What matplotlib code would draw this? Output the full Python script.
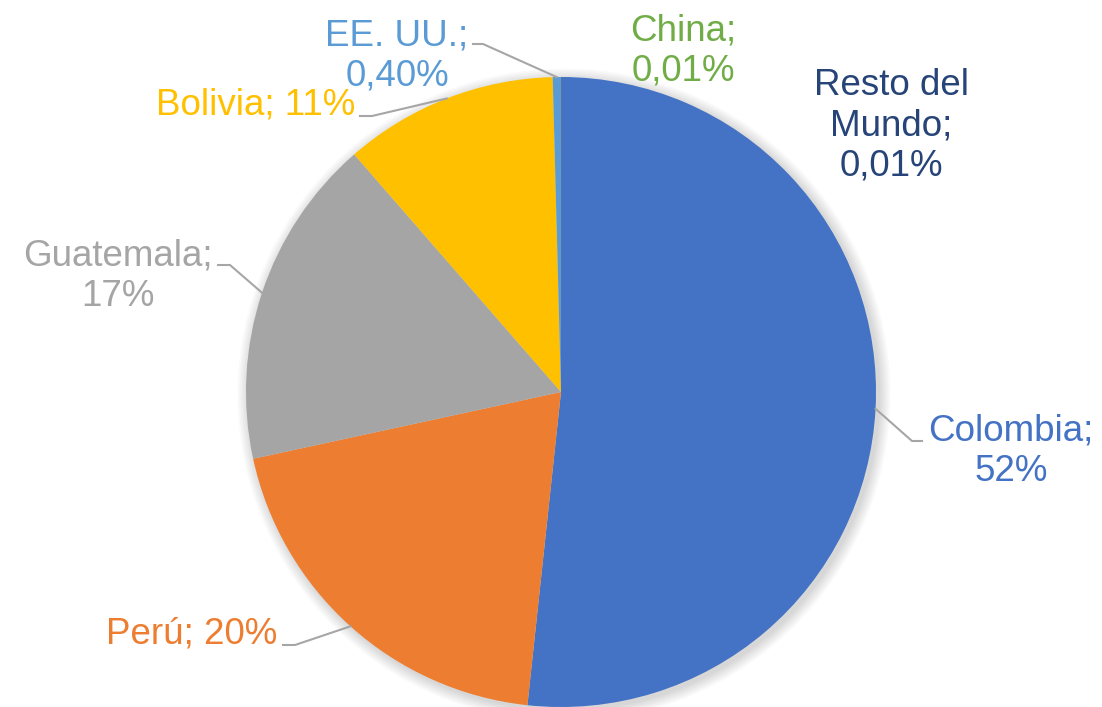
import numpy as np
import matplotlib
matplotlib.use("Agg")
import matplotlib.pyplot as plt

# Datos: participación por país (%)
paises = ["Colombia", "Perú", "Guatemala", "Bolivia", "EE. UU.", "China", "Resto del Mundo"]
valores = [51.7, 19.9, 17.0, 10.98, 0.40, 0.01, 0.01]
etiquetas = ["Colombia;\n52%", "Perú; 20%", "Guatemala;\n17%", "Bolivia; 11%",
             "EE. UU.;\n0,40%", "China;\n0,01%", "Resto del\nMundo;\n0,01%"]
colores = ["#4472C4", "#ED7D31", "#A5A5A5", "#FFC000", "#5B9BD5", "#70AD47", "#264478"]

W, H = 1102, 707
plt.rcParams["font.family"] = ["Liberation Sans", "DejaVu Sans"]

fig = plt.figure(figsize=(W / 100, H / 100), dpi=100)
ax = fig.add_axes([0, 0, 1, 1])

def py(y):
    return H - y

centro = (561, py(392))
radio = 315

# sombra suave
for k in range(8):
    ax.add_patch(plt.Circle((centro[0] + 3, centro[1] - 3), radio + 1 + k * 1.5,
                            color="black", alpha=0.018, lw=0, zorder=0))

wedges, _ = ax.pie(valores, colors=colores, startangle=90, counterclock=False,
                   center=centro, radius=radio, frame=True,
                   wedgeprops=dict(linewidth=0))
ax.set_xlim(0, W)
ax.set_ylim(0, H)
ax.axis("off")

# posiciones de etiquetas (pixeles) y codo de la línea guía
pos = {
    "Colombia": ((1011, 451), (922, 441), (912, 441)),
    "Perú": ((192, 634), (283, 645), (295, 645)),
    "Guatemala": ((118, 276), (218, 265), (230, 265)),
    "Bolivia": ((256, 105), (360, 116), (372, 116)),
    "EE. UU.": ((397, 56), (473, 44), (483, 44)),
    "China": ((683, 51), None, None),
    "Resto del Mundo": ((891, 126), None, None),
}

for w, pais, etq, col in zip(wedges, paises, etiquetas, colores):
    (tx, ty), p1, p2 = pos[pais]
    ax.text(tx, py(ty), etq, ha="center", va="center", multialignment="center",
            fontsize=26.5, color=col, linespacing=1.2)
    if p1 is not None:
        ang = np.deg2rad((w.theta1 + w.theta2) / 2)
        ex = centro[0] + radio * np.cos(ang)
        ey = centro[1] + radio * np.sin(ang)
        ax.plot([p1[0], p2[0], ex], [py(p1[1]), py(p2[1]), ey],
                color="#A6A6A6", lw=1.5, zorder=3)

fig.savefig("out.png", dpi=100)
